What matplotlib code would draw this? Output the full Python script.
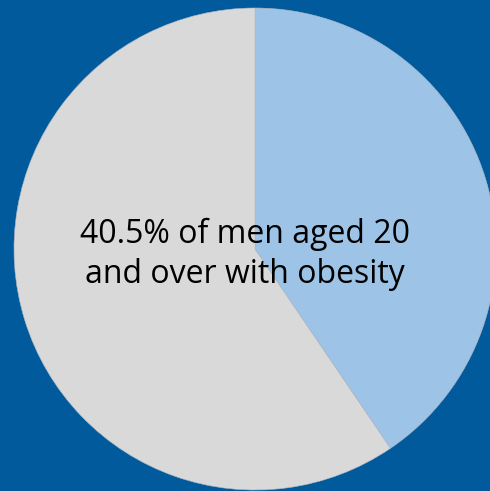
import matplotlib
matplotlib.use("Agg")
import matplotlib.pyplot as plt

labels = ["Men aged 20 and over with obesity", "Other"]
values = [40.5, 59.5]
colors = ["#9DC3E6", "#D9D9D9"]
caption = "40.5% of men aged 20\nand over with obesity"

W, H = 490, 491
fig = plt.figure(figsize=(W / 100, H / 100), dpi=100, facecolor="#005A9C")
ax = fig.add_axes([0, 0, 1, 1])
ax.set_facecolor("#005A9C")

ax.pie(values, colors=colors, startangle=90, counterclock=False, radius=1,
       wedgeprops=dict(edgecolor="#B0B8C4", linewidth=0.4))

cx, cy, r = 255, 249, 241
ax.set_xlim(-cx / r, (W - cx) / r)
ax.set_ylim(-(H - cy) / r, cy / r)
ax.set_aspect("auto")
ax.axis("off")

ax.text((245 - cx) / r, -(254 - cy) / r, caption, ha="center", va="center",
        fontsize=23, family=["Open Sans", "DejaVu Sans"], color="black",
        linespacing=1.28)

fig.savefig("out.png", dpi=100, facecolor=fig.get_facecolor())
